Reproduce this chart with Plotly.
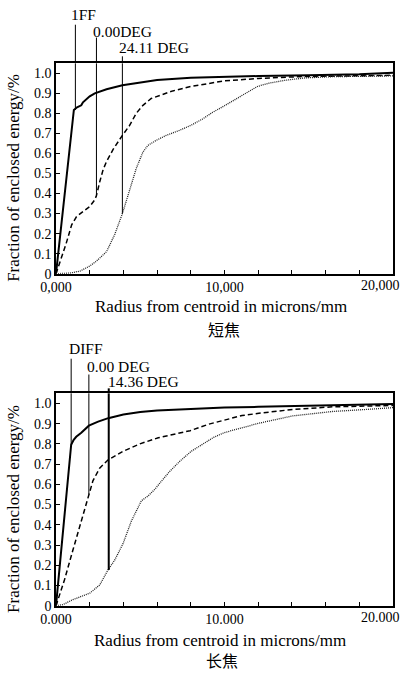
import plotly.graph_objects as go

# ---------------- data ----------------
x_ticks = [0, 2, 4, 6, 8, 10, 12, 14, 16, 18, 20]
x_text_short = ["0,000", "", "", "", "", "10,000", "", "", "", "", ""]
x_text_long = ["0.000", "", "", "", "", "10.000", "", "", "", "", ""]
x_end_short = "20,000"
x_end_long = "20.000"
y_ticks = [0, 0.1, 0.2, 0.3, 0.4, 0.5, 0.6, 0.7, 0.8, 0.9, 1.0]
y_text = ["0", "0.1", "0.2", "0.3", "0.4", "0.5", "0.6", "0.7", "0.8", "0.9", "1.0"]

# short focus (短焦)
s_diff_x = [0, 1.06, 1.25, 1.5, 1.6, 1.8, 2.0, 2.3, 3.0, 3.94, 5.0, 6.0, 8.0, 10.0, 12.0, 15.0, 18.0, 20.0]
s_diff_y = [0, 0.817, 0.83, 0.84, 0.855, 0.87, 0.885, 0.90, 0.92, 0.94, 0.955, 0.966, 0.978, 0.983, 0.986, 0.99, 0.995, 1.003]
s_0deg_x = [0, 0.3, 0.6, 0.93, 1.22, 1.6, 2.0, 2.3, 2.4, 2.6, 2.8, 3.0, 3.39, 3.94, 4.37, 4.76, 5.16, 5.65,
            6.14, 6.93, 8.0, 10.0, 12.0, 14.4, 20.0]
s_0deg_y = [0, 0.07, 0.15, 0.244, 0.285, 0.31, 0.335, 0.368, 0.39, 0.46, 0.52, 0.56, 0.62, 0.69, 0.74, 0.80,
            0.84, 0.874, 0.89, 0.912, 0.934, 0.962, 0.974, 0.983, 0.99]
s_fld_x = [0, 0.83, 1.42, 2.0, 2.4, 3.0, 3.48, 3.94, 4.37, 4.76, 5.16, 5.45, 5.94, 6.54, 7.32, 8.0, 8.7,
           9.29, 10.0, 10.67, 11.26, 11.95, 12.6, 13.6, 14.8, 16.4, 20.0]
s_fld_y = [0, 0.003, 0.013, 0.038, 0.063, 0.11, 0.195, 0.30, 0.417, 0.525, 0.607, 0.64, 0.665, 0.69, 0.715,
           0.74, 0.772, 0.805, 0.838, 0.871, 0.904, 0.934, 0.95, 0.965, 0.977, 0.983, 0.987]

# long focus (长焦)
l_diff_x = [0, 0.9, 1.05, 1.2, 1.5, 1.95, 2.5, 3.1, 4.0, 5.0, 6.0, 8.0, 10.0, 12.0, 15.0, 20.0]
l_diff_y = [0, 0.796, 0.82, 0.835, 0.855, 0.89, 0.91, 0.927, 0.945, 0.957, 0.965, 0.974, 0.98, 0.983, 0.988, 0.997]
l_0deg_x = [0, 0.5, 1.0, 1.49, 1.95, 2.19, 2.59, 3.08, 3.98, 4.98, 6.07, 7.06, 7.96, 9.05, 10.0, 11.04,
            12.04, 14.03, 16.4, 20.0]
l_0deg_y = [0, 0.127, 0.274, 0.42, 0.55, 0.617, 0.68, 0.72, 0.763, 0.80, 0.83, 0.848, 0.865, 0.897, 0.918,
            0.94, 0.951, 0.97, 0.983, 0.99]
l_fld_x = [0, 0.4, 1.0, 2.0, 2.6, 3.08, 3.48, 3.98, 4.48, 5.07, 5.47, 5.87, 6.27, 6.77, 7.36, 8.02, 8.66,
           9.35, 10.0, 11.04, 12.04, 14.03, 16.4, 18.4, 20.0]
l_fld_y = [0, 0.005, 0.03, 0.062, 0.103, 0.176, 0.225, 0.307, 0.42, 0.519, 0.543, 0.576, 0.617, 0.666,
           0.715, 0.763, 0.796, 0.832, 0.856, 0.881, 0.902, 0.938, 0.96, 0.97, 0.979]

# leader lines: label, x on curve, y on curve
s_labels = ["1FF", "0.00DEG", "24.11 DEG"]
s_lead_x = [1.15, 2.4, 3.94]
s_lead_y = [0.817, 0.385, 0.30]
l_labels = ["DIFF", "0.00 DEG", "14.36 DEG"]
l_lead_x = [0.9, 1.95, 3.13]
l_lead_y = [0.796, 0.55, 0.176]

# ---------------- figure ----------------
W, H = 408, 675
ML, MR = 56, 15
top_dom = [1 - 277 / H, 1 - 64 / H]
bot_dom = [1 - 613 / H, 1 - 398 / H]

FONT = "Liberation Serif"
CJK = "Noto Sans CJK SC"

fig = go.Figure()

def add_curves(xa, ya, dx, dy, zx, zy, fx, fy):
    fig.add_trace(go.Scatter(x=dx, y=dy, mode="lines", xaxis=xa, yaxis=ya,
                             line=dict(color="black", width=2), showlegend=False, hoverinfo="skip"))
    fig.add_trace(go.Scatter(x=zx, y=zy, mode="lines", xaxis=xa, yaxis=ya,
                             line=dict(color="black", width=1.5, dash="5px,3px"), showlegend=False,
                             hoverinfo="skip"))
    fig.add_trace(go.Scatter(x=fx, y=fy, mode="lines", xaxis=xa, yaxis=ya,
                             line=dict(color="#222", width=1.3, dash="1px,1px"), showlegend=False,
                             hoverinfo="skip"))

add_curves("x", "y", s_diff_x, s_diff_y, s_0deg_x, s_0deg_y, s_fld_x, s_fld_y)
add_curves("x2", "y2", l_diff_x, l_diff_y, l_0deg_x, l_0deg_y, l_fld_x, l_fld_y)

def axis_common():
    return dict(showline=True, linecolor="black", linewidth=1.5, mirror=True, ticks="inside",
                ticklen=4, tickwidth=1, tickcolor="black", showgrid=False, zeroline=False,
                tickfont=dict(family=FONT, size=14, color="black"))

fig.update_layout(
    width=W, height=H, margin=dict(l=ML, r=MR, t=0, b=0),
    paper_bgcolor="white", plot_bgcolor="white",
    xaxis=dict(domain=[0, 1], range=[0, 20], anchor="y", tickvals=x_ticks, ticktext=x_text_short,
               **axis_common()),
    yaxis=dict(domain=top_dom, range=[0, 1.05], anchor="x", tickvals=y_ticks, ticktext=y_text,
               **axis_common()),
    xaxis2=dict(domain=[0, 1], range=[0, 20], anchor="y2", tickvals=x_ticks, ticktext=x_text_long,
                **axis_common()),
    yaxis2=dict(domain=bot_dom, range=[0, 1.05], anchor="x2", tickvals=y_ticks, ticktext=y_text,
                **axis_common()),
)

def px2paper_x(px):
    return (px - ML) / (W - ML - MR)

def px2paper_y(py):
    return 1 - py / H

shapes = []
annotations = []

# leader lines (two parts: inside plot in data coords, above plot in paper coords)
s_tops = [25, 38, 57]
l_tops = [363, 379, 393]
for xs, ys, tops, xa, ya, dom, widths in [
    (s_lead_x, s_lead_y, s_tops, "x", "y", top_dom, [1, 1, 1]),
    (l_lead_x, l_lead_y, l_tops, "x2", "y2", bot_dom, [1, 1, 2]),
]:
    for x, y, t, w in zip(xs, ys, tops, widths):
        shapes.append(dict(type="line", xref=xa, yref=ya, x0=x, x1=x, y0=y, y1=1.05,
                           line=dict(color="black", width=w)))
        shapes.append(dict(type="line", xref=xa, yref="paper", x0=x, x1=x, y0=dom[1], y1=px2paper_y(t),
                           line=dict(color="black", width=w)))

# labels
s_lab_pos = [(83.3, 15), (122, 31.7), (154.3, 48.3)]
l_lab_pos = [(86, 353), (118.5, 371), (143, 386)]
for labs, pos in [(s_labels, s_lab_pos), (l_labels, l_lab_pos)]:
    for lab, (px, py) in zip(labs, pos):
        annotations.append(dict(text=lab, x=px2paper_x(px), y=px2paper_y(py), xref="paper", yref="paper",
                                showarrow=False, xanchor="center", yanchor="middle",
                                font=dict(family=FONT, size=15.5, color="black")))

# last x tick label (kept inside the page, right-aligned near the axis end)
for txt, xa, ya in [(x_end_short, "x", "y domain"), (x_end_long, "x2", "y2 domain")]:
    annotations.append(dict(text=txt, x=20, y=0, xref=xa, yref=ya, showarrow=False,
                            xanchor="right", yanchor="top", xshift=9, yshift=-2,
                            font=dict(family=FONT, size=14, color="black")))

# axis titles and captions
for (txt, px, py, ang, fam, sz) in [
    ("Fraction of enclosed energy/%", 14, 180, -90, FONT, 17),
    ("Radius from centroid in microns/mm", 221, 310, 0, FONT, 17),
    ("短焦", 224, 333, 0, CJK, 16),
    ("Fraction of enclosed energy/%", 14, 515, -90, FONT, 17),
    ("Radius from centroid in microns/mm", 220, 648, 0, FONT, 17),
    ("长焦", 222, 668, 0, CJK, 16),
]:
    annotations.append(dict(text=txt, x=px2paper_x(px), y=px2paper_y(py), xref="paper", yref="paper",
                            showarrow=False, xanchor="center", yanchor="middle", textangle=ang,
                            font=dict(family=fam, size=sz, color="black")))

fig.update_layout(shapes=shapes, annotations=annotations)
fig.write_html("out.html", config={"displayModeBar": False},
               post_script="document.body.style.margin='0';")
